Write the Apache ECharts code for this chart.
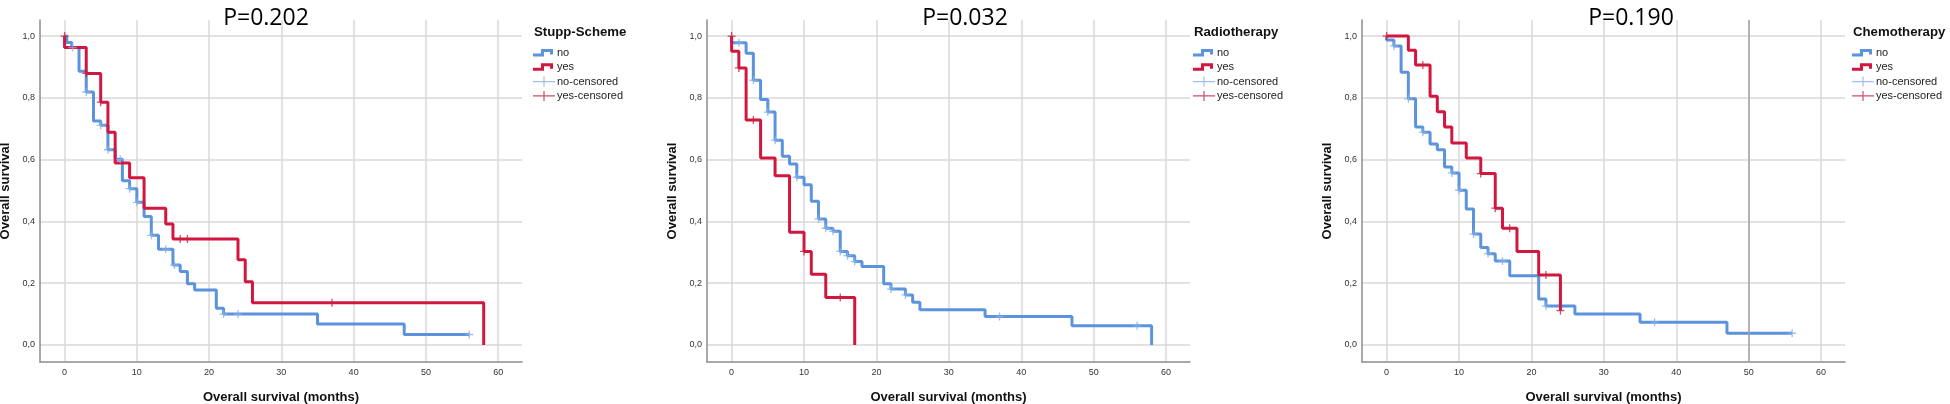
<!DOCTYPE html>
<html>
<head>
<meta charset="utf-8">
<title>Kaplan-Meier overall survival</title>
<script src="https://cdn.jsdelivr.net/npm/echarts@6/dist/echarts.min.js"></script>
<style>
  html, body { margin: 0; padding: 0; background: #fff; }
  #chart { width: 1950px; height: 404px; }
</style>
</head>
<body>
<div id="chart"></div>
<script>
// tick labels
const xTicks = [0, 10, 20, 30, 40, 50, 60];
const yTicks = [0, 0.2, 0.4, 0.6, 0.8, 1.0];

// panel titles
const pValues = ['P=0.202', 'P=0.032', 'P=0.190'];
const groupNames = ['Stupp-Scheme', 'Radiotherapy', 'Chemotherapy'];

// [month, survival] step points
const stuppNo = [[0, 1], [0.3, 0.979], [1, 0.963], [2, 0.886], [3, 0.819], [4, 0.725], [5, 0.711], [6, 0.632], [7, 0.601], [8, 0.532], [9, 0.506], [10, 0.462], [11, 0.416], [12, 0.355], [13, 0.31], [15, 0.259], [16, 0.238], [17, 0.198], [18, 0.178], [21, 0.119], [22, 0.1], [35, 0.068], [47, 0.034], [56, 0.034]];
const stuppYes = [[0, 1], [0, 0.963], [3, 0.879], [5, 0.786], [6, 0.689], [7, 0.589], [9, 0.541], [11, 0.443], [14, 0.392], [15, 0.343], [24, 0.276], [25, 0.205], [26, 0.137], [58, 0]];
const stuppNoCens = [[1.1, 0.963], [3, 0.819], [5, 0.711], [6, 0.632], [7.7, 0.601], [9, 0.506], [10, 0.462], [12, 0.355], [14, 0.31], [15.2, 0.259], [22, 0.1], [24, 0.1], [56, 0.034]];
const stuppYesCens = [[0, 1], [3, 0.879], [5, 0.786], [16, 0.343], [17, 0.343], [37, 0.137]];

const radioNo = [[0, 1], [0, 0.978], [2, 0.944], [3, 0.857], [4, 0.795], [5, 0.754], [6, 0.663], [7, 0.611], [8, 0.586], [9, 0.543], [10, 0.519], [11, 0.465], [12, 0.408], [13, 0.378], [14, 0.368], [15, 0.303], [16, 0.289], [17, 0.27], [18, 0.254], [21, 0.198], [22, 0.181], [24, 0.162], [25, 0.138], [26, 0.114], [35, 0.092], [47, 0.062], [58, 0]];
const radioYes = [[0, 1], [0, 0.951], [1, 0.897], [2, 0.728], [4, 0.605], [6, 0.548], [8, 0.365], [10, 0.303], [11, 0.229], [13, 0.154], [17, 0]];
const radioNoCens = [[1, 0.978], [3, 0.857], [5, 0.754], [6, 0.663], [9, 0.543], [12, 0.408], [13, 0.378], [14, 0.368], [15, 0.303], [16, 0.289], [17, 0.27], [22, 0.181], [24, 0.162], [37, 0.092], [56, 0.062]];
const radioYesCens = [[0, 1], [1, 0.897], [3, 0.728], [10, 0.303], [15, 0.154]];

const chemoNo = [[0, 1], [0, 0.987], [1, 0.968], [2, 0.883], [3, 0.797], [4, 0.706], [5, 0.689], [6, 0.651], [7, 0.632], [8, 0.576], [9, 0.557], [10, 0.501], [11, 0.44], [12, 0.359], [13, 0.316], [14, 0.295], [15, 0.272], [17, 0.224], [21, 0.149], [22, 0.126], [26, 0.1], [35, 0.074], [47, 0.038], [56, 0.038]];
const chemoYes = [[0, 1], [3, 0.954], [4, 0.906], [6, 0.805], [7, 0.755], [8, 0.706], [9, 0.654], [11, 0.605], [13, 0.555], [15, 0.443], [16, 0.378], [18, 0.303], [21, 0.227], [24, 0.111]];
const chemoNoCens = [[1, 0.968], [3, 0.797], [5, 0.689], [9, 0.557], [10, 0.501], [12, 0.359], [14, 0.295], [16, 0.272], [22, 0.126], [37, 0.074], [56, 0.038]];
const chemoYesCens = [[0, 1], [5, 0.906], [13, 0.555], [15, 0.443], [17, 0.378], [22, 0.227], [24, 0.111]];

const panels = [
  { no: stuppNo, yes: stuppYes, noCens: stuppNoCens, yesCens: stuppYesCens },
  { no: radioNo, yes: radioYes, noCens: radioNoCens, yesCens: radioYesCens },
  { no: chemoNo, yes: chemoYes, noCens: chemoNoCens, yesCens: chemoYesCens },
];

const BLUE = '#5b93dc';
const RED = '#d1173f';
const FONT = '"Liberation Sans", Arial, sans-serif';

// plot areas and label positions for the three panels
const gridLeft = [40, 707, 1362];
const gridWidth = [482, 483, 483];
const titleX = [266, 965, 1631];
const legendX = [533, 1193, 1852];

// censor mark (+) and legend icons, drawn in a 22 x 12 box
const plusMark = 'path://M-0.65,-4H0.65V-0.65H4V0.65H0.65V4H-0.65V0.65H-4V-0.65H-0.65Z';
const stepIcon = 'path://M0,0L0.01,0L0,0.01Z M22,12L21.99,12L22,11.99Z M0,6.5H8V2H20V7.5H17V5H11V9.5H0Z';
const censIcon = 'path://M0,0L0.01,0L0,0.01Z M22,12L21.99,12L22,11.99Z M0,5.4H22V6.6H0Z M10.4,1H11.6V11H10.4Z';

const chart = echarts.init(document.getElementById('chart'), null, { renderer: 'canvas' });

const option = {
  backgroundColor: '#fff',
  animation: false,
  title: [],
  legend: [],
  grid: [],
  xAxis: [],
  yAxis: [],
  series: [],
};

panels.forEach(function (p, i) {
  option.title.push({
    text: pValues[i],
    left: titleX[i],
    top: 7,
    padding: 0,
    textAlign: 'center',
    textStyle: { fontFamily: '"Open Sans", sans-serif', fontSize: 23, fontWeight: 'normal', color: '#000' },
  });
  option.title.push({
    text: groupNames[i],
    left: legendX[i] + 1,
    top: 26,
    padding: 0,
    textStyle: { fontFamily: FONT, fontSize: 13.2, fontWeight: 'bold', color: '#111' },
  });
  option.legend.push({
    left: legendX[i],
    top: 47,
    padding: 0,
    orient: 'vertical',
    itemWidth: 22,
    itemHeight: 12,
    itemGap: 2.3,
    selectedMode: false,
    itemStyle: { borderWidth: 0 },
    textStyle: { fontFamily: FONT, fontSize: 11, color: '#222', padding: [0, 0, 0, -3] },
    data: [
      { name: 'no', icon: stepIcon },
      { name: 'yes', icon: stepIcon },
      { name: 'no-censored', icon: censIcon },
      { name: 'yes-censored', icon: censIcon },
    ],
  });
  option.grid.push({
    left: gridLeft[i],
    top: 20,
    width: gridWidth[i],
    height: 342,
    containLabel: false,
    outerBoundsMode: 'none',
  });
  option.xAxis.push({
    gridIndex: i,
    type: 'value',
    min: -3.4,
    max: 63.3,
    name: 'Overall survival (months)',
    nameLocation: 'middle',
    nameGap: 29,
    nameTextStyle: { fontFamily: FONT, fontSize: 13, fontWeight: 'bold', color: '#111' },
    axisLine: { show: true, onZero: false, lineStyle: { color: '#8c8c8c', width: 1.5 } },
    axisTick: { show: false, customValues: xTicks },
    axisLabel: { customValues: xTicks, fontFamily: FONT, fontSize: 9, color: '#333', margin: 6 },
    splitLine: { show: true, lineStyle: { color: '#d9d9d9', width: 1.5 } },
  });
  option.yAxis.push({
    gridIndex: i,
    type: 'value',
    min: -0.055,
    max: 1.052,
    name: 'Overall survival',
    nameLocation: 'middle',
    nameGap: 28,
    nameTextStyle: { fontFamily: FONT, fontSize: 13, fontWeight: 'bold', color: '#111' },
    axisLine: { show: true, onZero: false, lineStyle: { color: '#8c8c8c', width: 1.5 } },
    axisTick: { show: false, customValues: yTicks },
    axisLabel: {
      customValues: yTicks,
      fontFamily: FONT,
      fontSize: 9,
      color: '#333',
      margin: 5,
      formatter: function (v) { return v.toFixed(1).replace('.', ','); },
    },
    splitLine: { show: true, lineStyle: { color: '#d9d9d9', width: 1.5 } },
  });

  if (i === 2) {
    // darker reference line at 50 months in the last panel
    option.series.push({
      type: 'line',
      xAxisIndex: i,
      yAxisIndex: i,
      data: [],
      z: 1,
      silent: true,
      markLine: {
        silent: true,
        symbol: 'none',
        label: { show: false },
        lineStyle: { color: '#a3a3a3', width: 1.5, type: 'solid' },
        data: [{ xAxis: 50 }],
      },
    });
  }

  option.series.push(
    {
      name: 'no',
      type: 'line',
      step: 'end',
      xAxisIndex: i,
      yAxisIndex: i,
      data: p.no,
      showSymbol: false,
      color: BLUE,
      lineStyle: { color: BLUE, width: 3 },
      z: 2,
    },
    {
      name: 'yes',
      type: 'line',
      step: 'end',
      xAxisIndex: i,
      yAxisIndex: i,
      data: p.yes,
      showSymbol: false,
      color: RED,
      lineStyle: { color: RED, width: 3 },
      z: 3,
    },
    {
      name: 'no-censored',
      type: 'scatter',
      xAxisIndex: i,
      yAxisIndex: i,
      data: p.noCens,
      symbol: plusMark,
      symbolSize: 8,
      color: '#86b0e6',
      z: 4,
    },
    {
      name: 'yes-censored',
      type: 'scatter',
      xAxisIndex: i,
      yAxisIndex: i,
      data: p.yesCens,
      symbol: plusMark,
      symbolSize: 8,
      color: '#c8203f',
      z: 4,
    }
  );
});

chart.setOption(option);
</script>
</body>
</html>
